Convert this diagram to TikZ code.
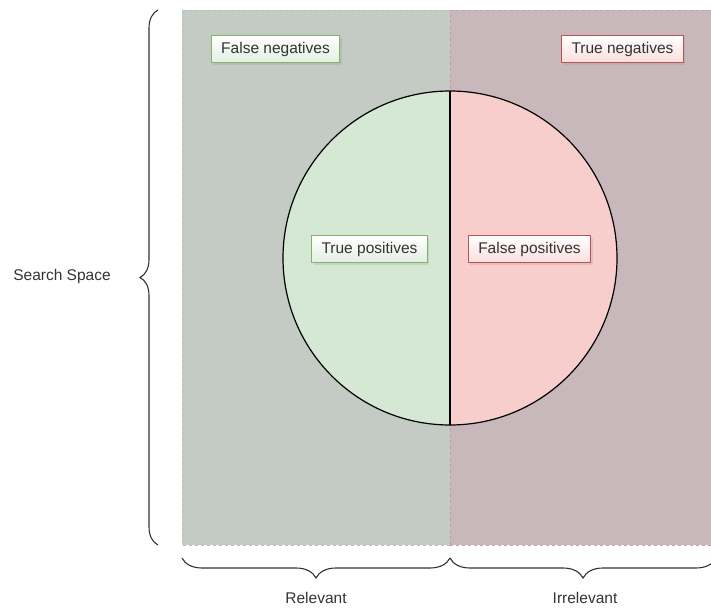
\documentclass[tikz,border=0pt]{standalone}
\usepackage{fontspec}
\setmainfont{Liberation Sans}
\usetikzlibrary{decorations.pathreplacing,shadows}
\definecolor{relbg}{HTML}{C3CBC4}
\definecolor{irrbg}{HTML}{C9B8BB}
\definecolor{grfill}{HTML}{D5E8D4}
\definecolor{rdfill}{HTML}{F8CECC}
\definecolor{grline}{HTML}{82B366}
\definecolor{rdline}{HTML}{B85450}
\definecolor{txt}{HTML}{333333}
\tikzset{
  lbl/.style={font=\fontsize{15.5}{18}\selectfont, text=txt},
  tagbox/.style={lbl, draw=#1, line width=1pt, minimum height=27pt, inner xsep=10pt,
    drop shadow={opacity=0.18, shadow xshift=2pt, shadow yshift=-2pt}},
  gtag/.style={tagbox=grline, top color=white, bottom color=grfill!70!white},
  rtag/.style={tagbox=rdline, top color=white, bottom color=rdfill!70!white},
  bracestyle/.style={decorate, draw=black!80, line width=1.1pt},
}
\begin{document}
\begin{tikzpicture}[x=1pt,y=1pt]
\useasboundingbox (0,0) rectangle (711,608);
\clip (0,0) rectangle (711,608);
% regions
\fill[relbg] (182,63) rectangle (450,598);
\fill[irrbg] (450,63) rectangle (711,598);
\draw[grline!25!relbg, dashed, line width=0.6pt] (450,598) -- (182,598) -- (182,63) -- (450,63);
\draw[rdline!20!irrbg, dashed, line width=0.6pt] (450,598) -- (711,598);
\draw[rdline!20!irrbg, dashed, line width=0.6pt] (450,63) -- (711,63);
\draw[rdline!25!irrbg, dashed, line width=0.6pt] (450,63) -- (450,598);
% circle halves
\coordinate (ctop) at (450,517);
\coordinate (cbot) at (450,183);
\fill[grfill] (ctop) arc[start angle=90, end angle=270, radius=167] -- cycle;
\fill[rdfill] (cbot) arc[start angle=-90, end angle=90, radius=167] -- cycle;
\draw[black, line width=1.2pt] (450,350) circle[radius=167];
\draw[black, line width=1.2pt] (ctop) -- (cbot);
% tags
\node[gtag] (fn) at (275.5,558.5) {False negatives};
\node[rtag] (tn) at (622.5,558.5) {True negatives};
\node[gtag] (tp) at (369.5,358.5) {True positives};
\node[rtag] (fp) at (529.5,358.5) {False positives};
% braces
\coordinate (sb) at (158,63);
\coordinate (st) at (158,598);
\draw[bracestyle, decoration={brace, amplitude=18pt}] (sb) -- (st);
\node[lbl] (ss) at (62,332) {Search Space};
\coordinate (r1) at (182,50);
\coordinate (r2) at (450,50);
\coordinate (i2) at (716,50);
\draw[bracestyle, decoration={brace, amplitude=20pt}] (r2) -- (r1);
\draw[bracestyle, decoration={brace, amplitude=20pt}] (i2) -- (r2);
\node[lbl] (rel) at (316,10) {Relevant};
\node[lbl] (irr) at (585,10) {Irrelevant};
\end{tikzpicture}
\end{document}
